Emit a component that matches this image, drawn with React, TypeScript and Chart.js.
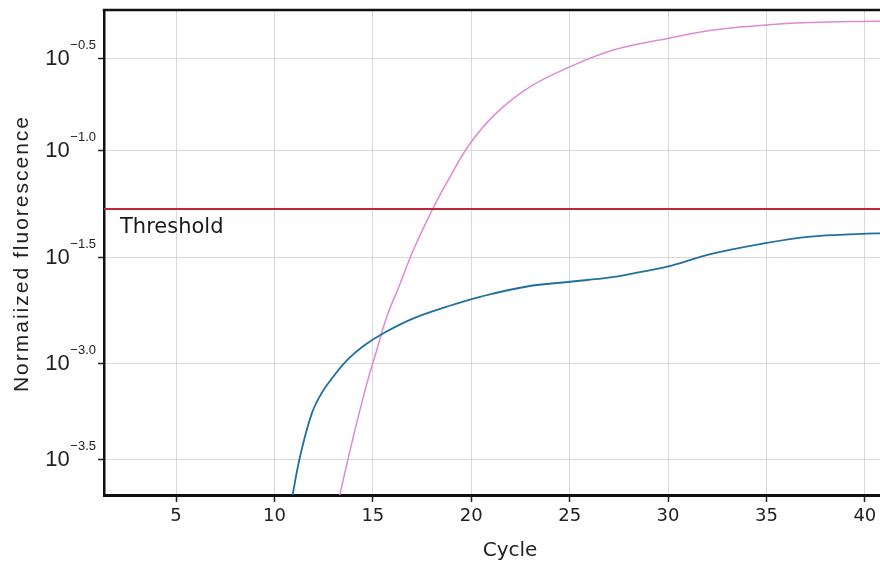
import React, { useEffect, useRef } from "react";
import { Chart, registerables } from "chart.js";

Chart.register(...registerables);

// ---- data ----
const X_TITLE = "Cycle";
const Y_TITLE = "Normaiized fluorescence";
const THRESHOLD_LABEL = "Threshold";

const X_MIN = 1.34;
const X_MAX = 42.6;
const X_TICKS = [5, 10, 15, 20, 25, 30, 35, 40];

const Y_MIN = -2.621;
const Y_MAX = -0.267;
const Y_TICK_VALUES = [-0.5, -0.947, -1.466, -1.981, -2.447];
const Y_TICK_EXPONENTS = ["\u22120.5", "\u22121.0", "\u22121.5", "\u22123.0", "\u22123.5"];

const THRESHOLD = -1.233;

const BLUE_CYCLES = [10.85, 11.3, 11.9, 12.4, 12.9, 13.68, 14.52, 15.54, 17.06, 18.76, 20.46, 22.83, 25.03, 27.06, 28.25, 29.95, 32.15, 34.69, 37.23, 39.77, 41.0];
const BLUE_VALUES = [-2.66, -2.435, -2.225, -2.126, -2.058, -1.968, -1.898, -1.836, -1.764, -1.707, -1.659, -1.609, -1.586, -1.565, -1.545, -1.513, -1.452, -1.403, -1.367, -1.354, -1.35];

const PINK_CYCLES = [13.25, 14.01, 14.7, 15.2, 15.71, 16.39, 17.06, 18.08, 18.76, 19.95, 21.3, 23.0, 25.03, 27.23, 30.03, 32.32, 35.03, 36.56, 41.0];
const PINK_VALUES = [-2.65, -2.338, -2.079, -1.917, -1.756, -1.594, -1.432, -1.225, -1.105, -0.914, -0.765, -0.639, -0.542, -0.461, -0.404, -0.364, -0.34, -0.33, -0.32];

const toPoints = (xs: number[], ys: number[]) => xs.map((x, i) => ({ x, y: ys[i] }));

const labelsPlugin = {
  id: "customLabels",
  afterDraw(chart: any) {
    const { ctx, chartArea, scales } = chart;
    const y = scales.y;
    ctx.save();
    // top frame line
    ctx.strokeStyle = "#111";
    ctx.lineWidth = 2.5;
    ctx.beginPath();
    ctx.moveTo(chartArea.left - 1.25, chartArea.top);
    ctx.lineTo(chartArea.right, chartArea.top);
    ctx.stroke();

    // y tick labels with superscript exponents
    ctx.fillStyle = "#222";
    ctx.textBaseline = "alphabetic";
    ctx.textAlign = "right";
    Y_TICK_VALUES.forEach((v, i) => {
      const py = y.getPixelForValue(v);
      const exp = Y_TICK_EXPONENTS[i];
      ctx.font = '13px "Liberation Sans", Arial, sans-serif';
      const ew = ctx.measureText(exp).width;
      ctx.fillText(exp, 96, py - 9);
      ctx.font = '22px "Liberation Sans", Arial, sans-serif';
      ctx.fillText("10", 96 - ew - 0.5, py + 7);
    });

    // y axis title
    ctx.save();
    ctx.translate(28, (chartArea.top + chartArea.bottom) / 2 + 1);
    ctx.rotate(-Math.PI / 2);
    ctx.font = '21px "Liberation Sans", Arial, sans-serif';
    (ctx as any).letterSpacing = "2px";
    ctx.textAlign = "center";
    ctx.fillStyle = "#222";
    ctx.fillText(Y_TITLE, 0, 0);
    ctx.restore();

    // threshold label
    ctx.textAlign = "left";
    ctx.font = '21px "DejaVu Sans", sans-serif';
    ctx.fillStyle = "#1a1a1a";
    ctx.fillText(THRESHOLD_LABEL, 120, y.getPixelForValue(THRESHOLD) + 24);
    ctx.restore();
  },
};

export default function App() {
  const canvasRef = useRef<HTMLCanvasElement | null>(null);

  useEffect(() => {
    if (!canvasRef.current) return;
    const chart = new Chart(canvasRef.current, {
      type: "line",
      data: {
        datasets: [
          {
            label: "threshold",
            data: [
              { x: X_MIN, y: THRESHOLD },
              { x: X_MAX, y: THRESHOLD },
            ],
            borderColor: "#c0263a",
            borderWidth: 2,
            pointRadius: 0,
          },
          {
            label: "sample A",
            data: toPoints(BLUE_CYCLES, BLUE_VALUES),
            borderColor: "#20709f",
            borderWidth: 1.8,
            pointRadius: 0,
            tension: 0.4,
          },
          {
            label: "sample B",
            data: toPoints(PINK_CYCLES, PINK_VALUES),
            borderColor: "#df8ad4",
            borderWidth: 1.5,
            pointRadius: 0,
            tension: 0.4,
          },
        ],
      },
      options: {
        responsive: false,
        animation: false,
        events: [],
        layout: { padding: { top: 10, right: 4, left: 0, bottom: 0 } },
        plugins: { legend: { display: false }, tooltip: { enabled: false } },
        scales: {
          x: {
            type: "linear",
            min: X_MIN,
            max: X_MAX,
            afterBuildTicks: (s: any) => {
              s.ticks = X_TICKS.map((v) => ({ value: v }));
            },
            afterFit: (s: any) => {
              s.height = 73;
            },
            grid: { color: "#d9d9d9", lineWidth: 1, tickLength: 7, tickColor: "#222", tickWidth: 1.5 },
            border: { display: true, color: "#111", width: 3 },
            ticks: {
              font: { family: "DejaVu Sans", size: 18 },
              color: "#222",
              padding: 4,
              maxRotation: 0,
              autoSkip: false,
            },
            title: {
              display: true,
              text: X_TITLE,
              font: { family: "DejaVu Sans", size: 20 },
              color: "#222",
              padding: { top: 0, bottom: 5 },
            },
          },
          y: {
            type: "linear",
            min: Y_MIN,
            max: Y_MAX,
            afterBuildTicks: (s: any) => {
              s.ticks = Y_TICK_VALUES.map((v) => ({ value: v }));
            },
            afterFit: (s: any) => {
              s.width = 104;
            },
            grid: { color: "#d9d9d9", lineWidth: 1, tickLength: 6, tickColor: "#222", tickWidth: 1.5 },
            border: { display: true, color: "#111", width: 2.5 },
            ticks: { display: false },
            title: { display: false },
          },
        },
      },
      plugins: [labelsPlugin],
    } as any);
    return () => chart.destroy();
  }, []);

  return (
    <div
      style={{
        position: "fixed",
        left: 0,
        top: 0,
        width: 880,
        height: 568,
        overflow: "hidden",
        background: "#fff",
      }}
    >
      <canvas ref={canvasRef} width={920} height={568} style={{ display: "block" }} />
    </div>
  );
}
